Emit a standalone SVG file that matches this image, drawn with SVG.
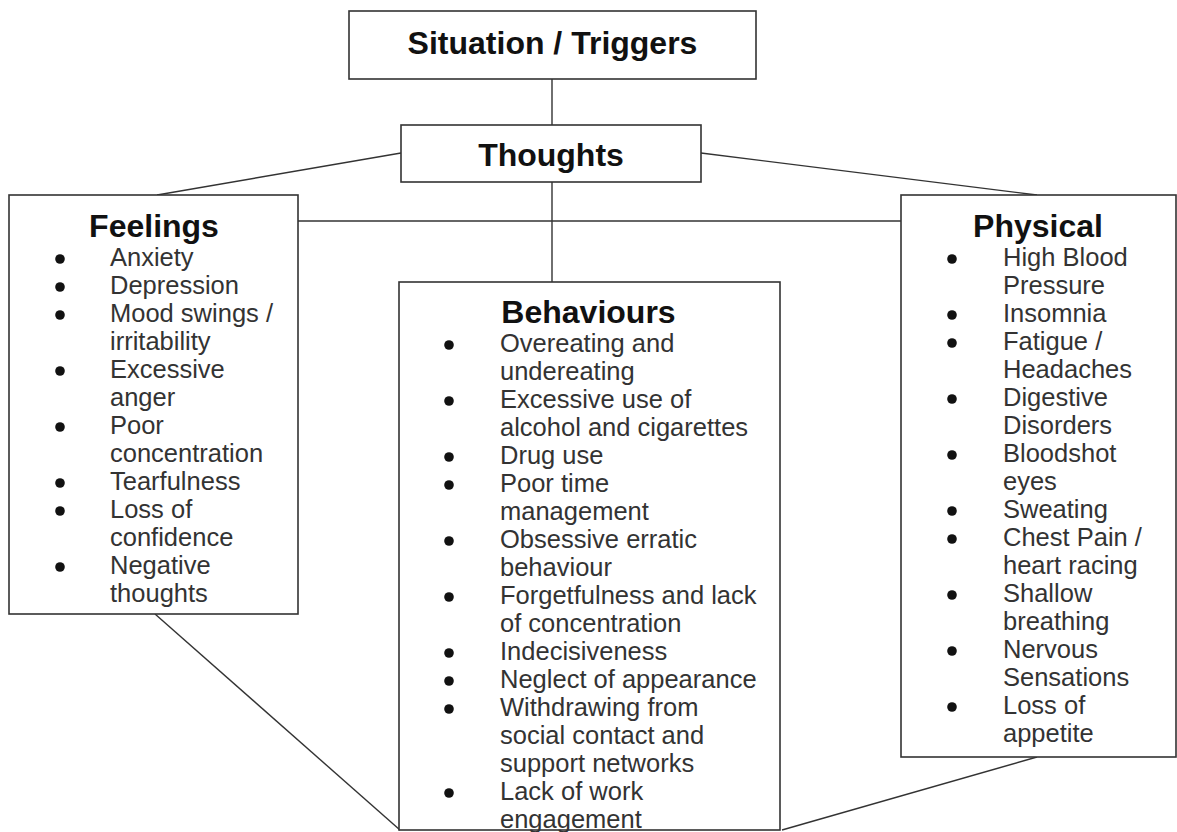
<svg xmlns="http://www.w3.org/2000/svg" width="1177" height="832" viewBox="0 0 1177 832">
<style>
.box{fill:#fff;stroke:#333;stroke-width:1.6}
.con{stroke:#333;stroke-width:1.4;fill:none}
.hd{font-family:"Liberation Sans",Arial,sans-serif;font-weight:bold;font-size:32px;fill:#111}
.it{font-family:"Liberation Sans",Arial,sans-serif;font-size:25.5px;fill:#333}
.bl{fill:#111}
</style>
<rect width="1177" height="832" fill="#fff"/>
<g id="connectors">
<line class="con" x1="552" y1="79" x2="552" y2="125"/>
<line class="con" x1="552" y1="182" x2="552" y2="282"/>
<line class="con" x1="401" y1="153" x2="157" y2="195"/>
<line class="con" x1="701" y1="153" x2="1037" y2="195"/>
<line class="con" x1="298" y1="221" x2="901" y2="221"/>
<line class="con" x1="155" y1="614" x2="400" y2="830"/>
<line class="con" x1="1037" y1="757" x2="782" y2="830"/>
</g>
<g id="situation">
<rect class="box" x="349" y="11" width="407" height="68"/>
<text class="hd" x="552.5" y="54" text-anchor="middle">Situation / Triggers</text>
</g>
<g id="thoughts">
<rect class="box" x="401" y="125" width="300" height="57"/>
<text class="hd" x="551" y="166" text-anchor="middle">Thoughts</text>
</g>
<g id="feelings">
<rect class="box" x="9" y="195" width="289" height="419"/>
<text class="hd" x="154" y="237" text-anchor="middle">Feelings</text>
<g class="bl">
<circle cx="60" cy="259" r="4.8"/><circle cx="60" cy="287" r="4.8"/><circle cx="60" cy="315" r="4.8"/>
<circle cx="60" cy="371" r="4.8"/><circle cx="60" cy="427" r="4.8"/><circle cx="60" cy="483" r="4.8"/>
<circle cx="60" cy="511" r="4.8"/><circle cx="60" cy="567" r="4.8"/>
</g>
<text class="it" x="110">
<tspan x="110" y="266">Anxiety</tspan>
<tspan x="110" y="294">Depression</tspan>
<tspan x="110" y="322">Mood swings /</tspan>
<tspan x="110" y="350">irritability</tspan>
<tspan x="110" y="378">Excessive</tspan>
<tspan x="110" y="406">anger</tspan>
<tspan x="110" y="434">Poor</tspan>
<tspan x="110" y="462">concentration</tspan>
<tspan x="110" y="490">Tearfulness</tspan>
<tspan x="110" y="518">Loss of</tspan>
<tspan x="110" y="546">confidence</tspan>
<tspan x="110" y="574">Negative</tspan>
<tspan x="110" y="602">thoughts</tspan>
</text>
</g>
<g id="behaviours">
<rect class="box" x="399" y="282" width="381" height="548"/>
<text class="hd" x="588.5" y="323" text-anchor="middle">Behaviours</text>
<g class="bl">
<circle cx="449" cy="345" r="4.8"/><circle cx="449" cy="401" r="4.8"/><circle cx="449" cy="457" r="4.8"/>
<circle cx="449" cy="485" r="4.8"/><circle cx="449" cy="541" r="4.8"/><circle cx="449" cy="597" r="4.8"/>
<circle cx="449" cy="653" r="4.8"/><circle cx="449" cy="681" r="4.8"/><circle cx="449" cy="709" r="4.8"/>
<circle cx="449" cy="793" r="4.8"/>
</g>
<text class="it" x="500">
<tspan x="500" y="352">Overeating and</tspan>
<tspan x="500" y="380">undereating</tspan>
<tspan x="500" y="408">Excessive use of</tspan>
<tspan x="500" y="436">alcohol and cigarettes</tspan>
<tspan x="500" y="464">Drug use</tspan>
<tspan x="500" y="492">Poor time</tspan>
<tspan x="500" y="520">management</tspan>
<tspan x="500" y="548">Obsessive erratic</tspan>
<tspan x="500" y="576">behaviour</tspan>
<tspan x="500" y="604">Forgetfulness and lack</tspan>
<tspan x="500" y="632">of concentration</tspan>
<tspan x="500" y="660">Indecisiveness</tspan>
<tspan x="500" y="688">Neglect of appearance</tspan>
<tspan x="500" y="716">Withdrawing from</tspan>
<tspan x="500" y="744">social contact and</tspan>
<tspan x="500" y="772">support networks</tspan>
<tspan x="500" y="800">Lack of work</tspan>
<tspan x="500" y="828">engagement</tspan>
</text>
</g>
<g id="physical">
<rect class="box" x="901" y="195" width="275" height="562"/>
<text class="hd" x="1038" y="237" text-anchor="middle">Physical</text>
<g class="bl">
<circle cx="952" cy="259" r="4.8"/><circle cx="952" cy="315" r="4.8"/><circle cx="952" cy="343" r="4.8"/>
<circle cx="952" cy="399" r="4.8"/><circle cx="952" cy="455" r="4.8"/><circle cx="952" cy="511" r="4.8"/>
<circle cx="952" cy="539" r="4.8"/><circle cx="952" cy="595" r="4.8"/><circle cx="952" cy="651" r="4.8"/>
<circle cx="952" cy="707" r="4.8"/>
</g>
<text class="it" x="1003">
<tspan x="1003" y="266">High Blood</tspan>
<tspan x="1003" y="294">Pressure</tspan>
<tspan x="1003" y="322">Insomnia</tspan>
<tspan x="1003" y="350">Fatigue /</tspan>
<tspan x="1003" y="378">Headaches</tspan>
<tspan x="1003" y="406">Digestive</tspan>
<tspan x="1003" y="434">Disorders</tspan>
<tspan x="1003" y="462">Bloodshot</tspan>
<tspan x="1003" y="490">eyes</tspan>
<tspan x="1003" y="518">Sweating</tspan>
<tspan x="1003" y="546">Chest Pain /</tspan>
<tspan x="1003" y="574">heart racing</tspan>
<tspan x="1003" y="602">Shallow</tspan>
<tspan x="1003" y="630">breathing</tspan>
<tspan x="1003" y="658">Nervous</tspan>
<tspan x="1003" y="686">Sensations</tspan>
<tspan x="1003" y="714">Loss of</tspan>
<tspan x="1003" y="742">appetite</tspan>
</text>
</g>
</svg>
